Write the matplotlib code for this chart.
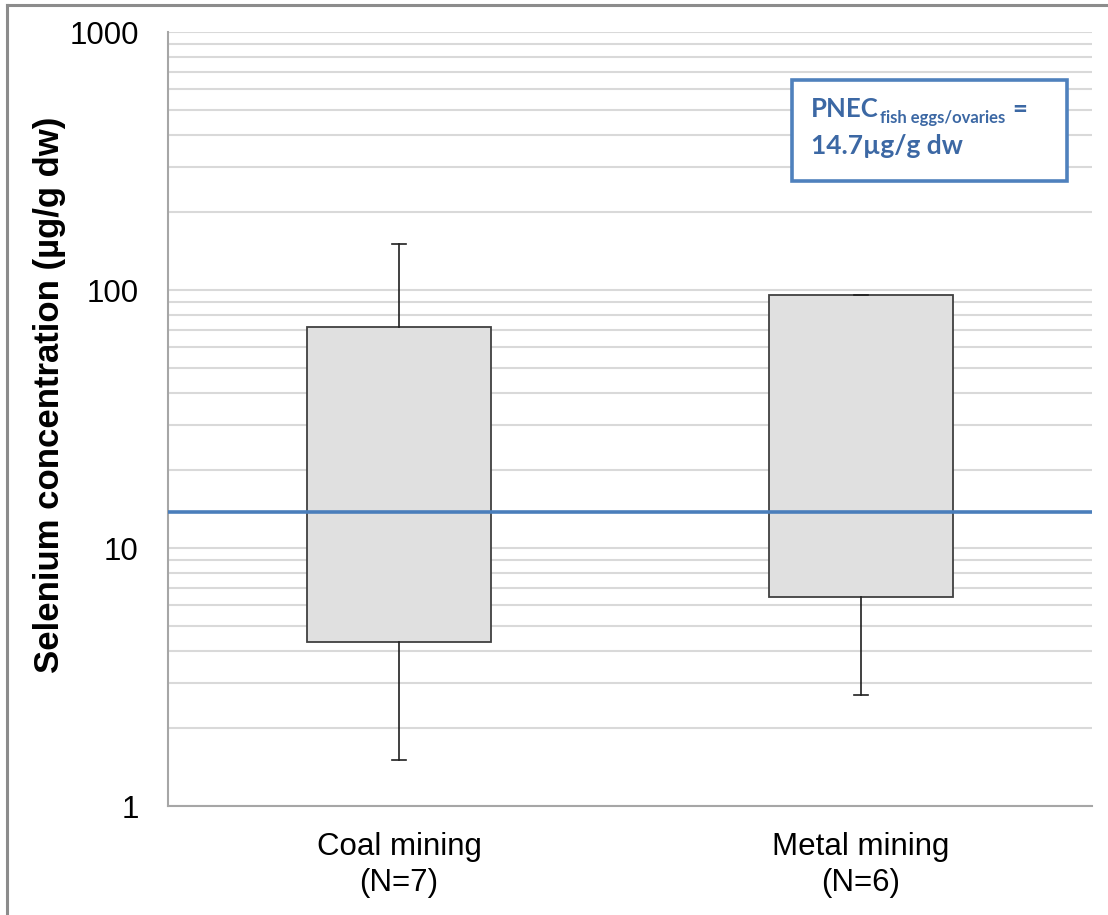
import matplotlib
matplotlib.use("Agg")
import matplotlib.pyplot as plt
from matplotlib.patches import Rectangle
from matplotlib.lines import Line2D
from matplotlib.transforms import offset_copy

# ---- data ----
categories = ["Coal mining\n(N=7)", "Metal mining\n(N=6)"]
whisker_low = [1.51, 2.69]
q1_values = [4.32, 6.46]
q3_values = [71.9, 95.6]
whisker_high = [150.7, 95.6]
pnec_value = 13.8
y_ticks = [1, 10, 100, 1000]
y_tick_labels = ["1", "10", "100", "1000"]

plt.rcParams['font.family'] = ['Liberation Sans', 'DejaVu Sans']

fig = plt.figure(figsize=(11.08, 9.15), dpi=100)
ax = fig.add_axes([168/1108, 1-806/915, (1092-168)/1108, (806-32)/915])

stats = []
for i in range(len(categories)):
    stats.append(dict(label=categories[i], whislo=whisker_low[i], q1=q1_values[i],
                      med=q1_values[i], q3=q3_values[i], whishi=whisker_high[i], fliers=[]))

ax.bxp(stats, positions=range(len(categories)), widths=0.4, capwidths=0.03,
       showfliers=False, patch_artist=True,
       boxprops=dict(facecolor='#E0E0E0', edgecolor='#404040', linewidth=1.3),
       whiskerprops=dict(color='#202020', linewidth=1.2),
       capprops=dict(color='#202020', linewidth=1.2),
       medianprops=dict(linewidth=0), zorder=3)

ax.axhline(pnec_value, color='#4A7EBB', linewidth=2.6, zorder=4)

ax.set_yscale('log')
ax.set_ylim(1, 1000)
ax.set_xlim(-0.5, len(categories) - 0.5)
ax.set_yticks(y_ticks)
ax.set_yticklabels(y_tick_labels)
ax.yaxis.set_minor_formatter(matplotlib.ticker.NullFormatter())
ax.set_xticks(range(len(categories)))
ax.set_xticklabels(categories, fontsize=22.5, linespacing=1.24)
ax.tick_params(axis='y', which='both', length=0, labelsize=22.5, pad=21, colors='#000000')
ax.tick_params(axis='x', length=0, pad=19)

ax.grid(True, which='both', axis='y', color='#D9D9D9', linewidth=1.5, zorder=0)
ax.set_axisbelow(True)
for s in ['top', 'right']:
    ax.spines[s].set_visible(False)
for s in ['left', 'bottom']:
    ax.spines[s].set_color('#A6A6A6')
    ax.spines[s].set_linewidth(1.5)

ax.set_ylabel("Selenium concentration (µg/g dw)", fontsize=25, fontweight='bold')
ax.yaxis.set_label_coords(-(168-66)/924, (806-395)/774)

# annotation box
bx0 = (792-168)/924
bx1 = (1067-168)/924
by0 = (806-181)/774
by1 = (806-80)/774
ax.add_patch(Rectangle((bx0, by0), bx1-bx0, by1-by0, transform=ax.transAxes,
                       facecolor='white', edgecolor='#4F81BD', linewidth=2.6, zorder=5))
tcol = '#3C68A4'
tx = (811-168)/924
renderer = fig.canvas.get_renderer()
t1 = ax.text(tx, (806-117)/774, "PNEC", transform=ax.transAxes, fontsize=18.5,
             color=tcol, fontweight='bold', family='Lato', va='baseline', ha='left', zorder=6)
w1 = t1.get_window_extent(renderer).width
t2 = ax.text(tx, (806-117)/774, "fish eggs/ovaries",
             transform=offset_copy(ax.transAxes, fig=fig, x=w1 + 1, y=-6, units='dots'),
             fontsize=12, color=tcol, fontweight='bold', family='Lato',
             va='baseline', ha='left', zorder=6)
w2 = t2.get_window_extent(renderer).width
ax.text(tx, (806-117)/774, "=",
        transform=offset_copy(ax.transAxes, fig=fig, x=w1 + w2 + 8, y=0, units='dots'),
        fontsize=18.5, color=tcol, fontweight='bold', family='Lato',
        va='baseline', ha='left', zorder=6)
ax.text(tx, (806-154)/774, "14.7µg/g dw",
        transform=ax.transAxes, fontsize=19, color=tcol, fontweight='bold',
        family='Lato', va='baseline', ha='left', zorder=6)

# figure border (top and left)
fig.add_artist(Line2D([7/1108, 7/1108], [0, 1-5/915], color='#8C8C8C', linewidth=2.2,
                      transform=fig.transFigure))
fig.add_artist(Line2D([7/1108, 1], [1-5/915, 1-5/915], color='#8C8C8C', linewidth=2.2,
                      transform=fig.transFigure))

fig.savefig("out.png", dpi=100)
